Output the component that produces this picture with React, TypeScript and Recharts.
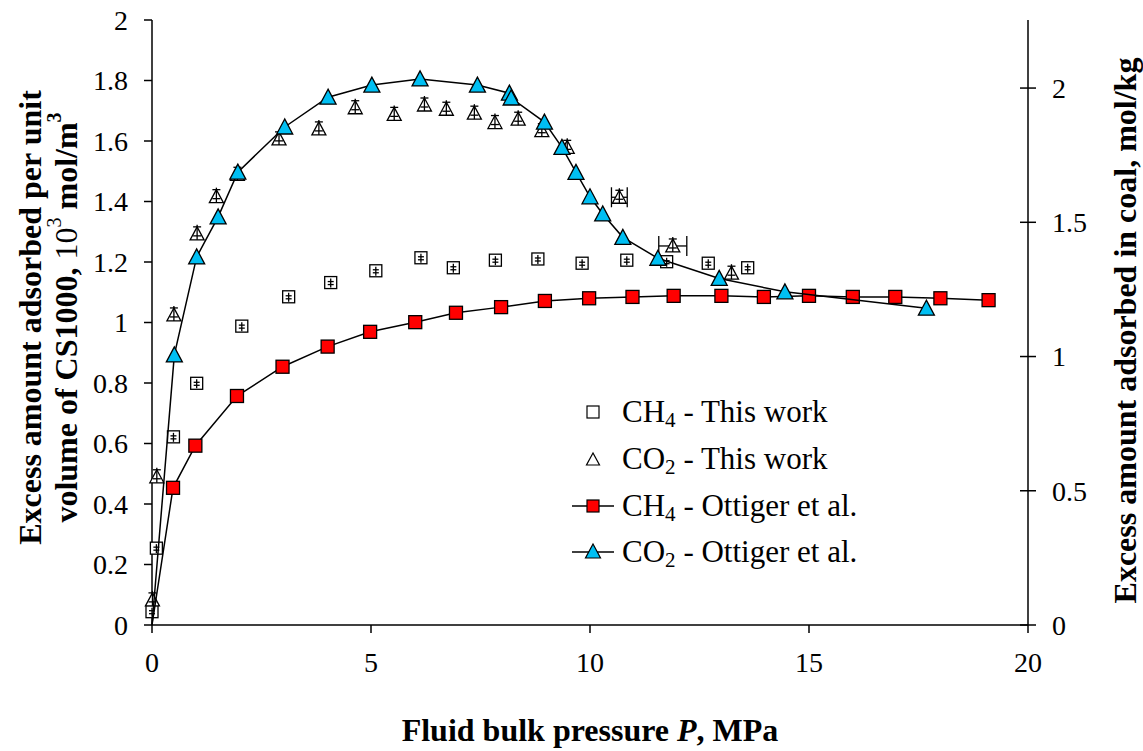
import { ComposedChart, Scatter, XAxis, YAxis, ErrorBar, Label } from 'recharts';

const SERIF = '"Liberation Serif", "Times New Roman", Times, serif';
const CYAN = '#00BFF3';
const RED = '#FF0000';

// CH4 - this work (left axis, 10^3 mol/m3)
const ch4WorkP = [0.0, 0.1, 0.49, 1.02, 2.05, 3.12, 4.08, 5.11, 6.14, 6.88, 7.84, 8.81, 9.82, 10.84, 11.75, 12.7, 13.6];
const ch4WorkQ = [0.044, 0.254, 0.622, 0.799, 0.988, 1.085, 1.132, 1.171, 1.214, 1.181, 1.206, 1.21, 1.196, 1.206, 1.201, 1.196, 1.181];

// CO2 - this work (left axis)
const co2WorkP = [0.01, 0.11, 0.5, 1.03, 1.47, 1.95, 2.9, 3.81, 4.64, 5.53, 6.22, 6.72, 7.36, 7.83, 8.36, 8.9, 9.48, 10.67, 11.89, 13.23];
const co2WorkQ = [0.083, 0.49, 1.025, 1.293, 1.416, 1.49, 1.607, 1.64, 1.71, 1.688, 1.719, 1.705, 1.692, 1.661, 1.672, 1.634, 1.579, 1.414, 1.253, 1.163];
const co2WorkErrP = [0, 0, 0, 0, 0, 0, 0, 0, 0, 0, 0, 0, 0, 0, 0, 0, 0, 0.18, 0.32, 0];

// Ottiger et al. (right axis, mol/kg)
const ch4OttP = [0, 0.48, 0.99, 1.94, 2.98, 4.01, 4.98, 6.01, 6.94, 7.97, 8.97, 9.98, 10.97, 11.91, 13.0, 13.97, 15.0, 16.0, 16.97, 18.0, 19.1];
const ch4OttQ = [0, 0.511, 0.668, 0.853, 0.962, 1.037, 1.092, 1.128, 1.163, 1.184, 1.207, 1.217, 1.222, 1.226, 1.226, 1.222, 1.226, 1.222, 1.222, 1.217, 1.21];
const co2OttP = [0, 0.51, 1.02, 1.51, 1.96, 3.03, 4.02, 5.02, 6.12, 7.43, 8.16, 8.2, 8.96, 9.36, 9.68, 10.0, 10.29, 10.75, 11.55, 12.95, 14.45, 17.68];
const co2OttQ = [0, 1.006, 1.371, 1.52, 1.687, 1.855, 1.966, 2.011, 2.034, 2.011, 1.981, 1.963, 1.873, 1.779, 1.686, 1.595, 1.531, 1.444, 1.366, 1.291, 1.241, 1.18];

const xTicks = [0, 5, 10, 15, 20];
const leftTicks = [0, 0.2, 0.4, 0.6, 0.8, 1, 1.2, 1.4, 1.6, 1.8, 2];
const rightTicks = [0, 0.5, 1, 1.5, 2];

const zip = (p: number[], q: number[], e?: number[]) =>
  p.map((v, i) => ({ p: v, q: q[i], e: e ? e[i] : 0 }));

const ch4Work = zip(ch4WorkP, ch4WorkQ);
const co2Work = zip(co2WorkP, co2WorkQ, co2WorkErrP);
const ch4Ott = zip(ch4OttP, ch4OttQ);
const co2Ott = zip(co2OttP, co2OttQ);

const OpenSquare = ({ cx, cy }: any) => (
  <g stroke="#000" strokeWidth={1.3} fill="none">
    <rect x={cx - 6} y={cy - 6} width={12} height={12} fill="#fff" />
    <line x1={cx} x2={cx} y1={cy - 4} y2={cy + 5} />
    <line x1={cx - 3} x2={cx + 3} y1={cy - 1} y2={cy - 1} />
    <line x1={cx - 3} x2={cx + 3} y1={cy + 2} y2={cy + 2} />
  </g>
);

const OpenTriangle = ({ cx, cy }: any) => (
  <g stroke="#000" strokeWidth={1.3} fill="none">
    <polygon points={`${cx},${cy - 7} ${cx - 7},${cy + 6} ${cx + 7},${cy + 6}`} fill="#fff" />
    <line x1={cx} x2={cx} y1={cy - 9} y2={cy + 6} />
    <line x1={cx - 4} x2={cx + 4} y1={cy - 7} y2={cy - 7} />
    <line x1={cx - 4} x2={cx + 4} y1={cy + 2} y2={cy + 2} />
  </g>
);

const RedSquare = ({ cx, cy, payload }: any) =>
  payload.p === 0 ? <g /> : (
    <rect x={cx - 6.5} y={cy - 6.5} width={13} height={13} fill={RED} stroke="#000" strokeWidth={1.3} />
  );

const BlueTriangle = ({ cx, cy, payload }: any) =>
  payload.p === 0 ? <g /> : (
    <polygon points={`${cx},${cy - 8} ${cx - 8},${cy + 7} ${cx + 8},${cy + 7}`} fill={CYAN} stroke="#000" strokeWidth={1.3} />
  );

const RightTick = ({ x, y, payload }: any) => (
  <g>
    <line x1={x - 32} x2={x - 16} y1={y} y2={y} stroke="#000" strokeWidth={1.5} />
    <text x={x} y={y} dy="0.355em" textAnchor="start" fontSize={28} fontFamily={SERIF} fill="#000">
      {payload.value}
    </text>
  </g>
);

const LeftTitle = ({ viewBox }: any) => {
  const cy = viewBox.y + viewBox.height / 2 - 5;
  const x1 = viewBox.x + 30;
  const x2 = viewBox.x + 66;
  return (
    <g fontFamily={SERIF} fontSize={32} fontWeight="bold" fill="#000">
      <text x={x1} y={cy} transform={`rotate(-90, ${x1}, ${cy})`} textAnchor="middle" dominantBaseline="central">
        Excess amount adsorbed per unit
      </text>
      <text x={x2} y={cy} transform={`rotate(-90, ${x2}, ${cy})`} textAnchor="middle" dominantBaseline="central">
        volume of CS1000, <tspan fontWeight="normal">10</tspan>
        <tspan fontWeight="normal" fontSize={20} dy={-12}>3</tspan>
        <tspan dy={12}> mol/m</tspan>
        <tspan fontSize={20} dy={-12}>3</tspan>
      </text>
    </g>
  );
};

const RightTitle = ({ viewBox }: any) => {
  const cx = viewBox.x + 97;
  const cy = viewBox.y + viewBox.height / 2 + 8;
  return (
    <text x={cx} y={cy} transform={`rotate(-90, ${cx}, ${cy})`} textAnchor="middle" dominantBaseline="central"
      fontFamily={SERIF} fontSize={32} fontWeight="bold" fill="#000">
      Excess amount adsorbed in coal, mol/kg
    </text>
  );
};

const XTitle = ({ viewBox }: any) => {
  const cx = viewBox.x + viewBox.width / 2;
  return (
    <text x={cx} y={viewBox.y + 116} textAnchor="middle" fontFamily={SERIF} fontSize={32} fontWeight="bold" fill="#000">
      Fluid bulk pressure <tspan fontStyle="italic">P</tspan>, MPa
    </text>
  );
};

const legendItems = [
  { key: 'ch4w', gas: 'CH', sub: '4', src: 'This work' },
  { key: 'co2w', gas: 'CO', sub: '2', src: 'This work' },
  { key: 'ch4o', gas: 'CH', sub: '4', src: 'Ottiger et al.' },
  { key: 'co2o', gas: 'CO', sub: '2', src: 'Ottiger et al.' },
];

const LegendIcon = ({ k }: { k: string }) => (
  <svg width={56} height={24}>
    {k === 'ch4w' && <rect x={22} y={6} width={12} height={12} fill="#fff" stroke="#000" strokeWidth={1.2} />}
    {k === 'co2w' && <polygon points="28,6 21.5,18 34.5,18" fill="#fff" stroke="#000" strokeWidth={1.2} />}
    {(k === 'ch4o' || k === 'co2o') && <line x1={7} x2={49} y1={12} y2={12} stroke="#000" strokeWidth={1.5} />}
    {k === 'ch4o' && <rect x={22} y={6} width={12} height={12} fill={RED} stroke="#000" strokeWidth={1.2} />}
    {k === 'co2o' && <polygon points="28,4 20.5,18 35.5,18" fill={CYAN} stroke="#000" strokeWidth={1.2} />}
  </svg>
);

export default function App() {
  return (
    <div style={{ position: 'absolute', left: 0, top: 0, width: 1143, height: 751, background: '#fff' }}>
      <ComposedChart width={1143} height={751} margin={{ top: 20, right: 0, bottom: 0, left: 0 }}>
        <XAxis
          type="number"
          dataKey="p"
          domain={[0, 20]}
          ticks={xTicks}
          height={126}
          tickSize={8}
          tickMargin={19}
          axisLine={{ stroke: '#000', strokeWidth: 1.5 }}
          tickLine={{ stroke: '#000', strokeWidth: 1.5 }}
          tick={{ fill: '#000', fontSize: 28, fontFamily: SERIF }}
        >
          <Label content={(props: any) => <XTitle {...props} />} />
        </XAxis>
        <YAxis
          yAxisId="left"
          type="number"
          domain={[0, 2]}
          ticks={leftTicks}
          width={152}
          tickSize={8}
          tickMargin={16}
          axisLine={{ stroke: '#000', strokeWidth: 1.5 }}
          tickLine={{ stroke: '#000', strokeWidth: 1.5 }}
          tick={{ fill: '#000', fontSize: 28, fontFamily: SERIF }}
        >
          <Label content={(props: any) => <LeftTitle {...props} />} />
        </YAxis>
        <YAxis
          yAxisId="right"
          orientation="right"
          type="number"
          domain={[0, 2.2535]}
          ticks={rightTicks}
          width={115}
          tickSize={8}
          tickMargin={16}
          axisLine={{ stroke: '#000', strokeWidth: 1.5 }}
          tickLine={false}
          tick={(props: any) => <RightTick {...props} />}
        >
          <Label content={(props: any) => <RightTitle {...props} />} />
        </YAxis>

        <Scatter name="CH4 - This work" data={ch4Work} dataKey="q" yAxisId="left" shape={(p: any) => <OpenSquare {...p} />} isAnimationActive={false} />
        <Scatter name="CO2 - This work" data={co2Work} dataKey="q" yAxisId="left" shape={(p: any) => <OpenTriangle {...p} />} isAnimationActive={false}>
          <ErrorBar dataKey="e" direction="x" width={10} stroke="#000" strokeWidth={1.3} />
        </Scatter>
        <Scatter
          name="CH4 - Ottiger et al."
          data={ch4Ott}
          dataKey="q"
          yAxisId="right"
          line={{ stroke: '#000', strokeWidth: 1.5 }}
          shape={(p: any) => <RedSquare {...p} />}
          isAnimationActive={false}
        />
        <Scatter
          name="CO2 - Ottiger et al."
          data={co2Ott}
          dataKey="q"
          yAxisId="right"
          line={{ stroke: '#000', strokeWidth: 1.5 }}
          shape={(p: any) => <BlueTriangle {...p} />}
          isAnimationActive={false}
        />
      </ComposedChart>

      <div style={{ position: 'absolute', left: 565, top: 389, fontFamily: SERIF, fontSize: 31, color: '#000' }}>
        {legendItems.map((it) => (
          <div key={it.key} style={{ display: 'flex', alignItems: 'center', height: 46.7, whiteSpace: 'nowrap' }}>
            <LegendIcon k={it.key} />
            <span style={{ marginLeft: 1 }}>
              {it.gas}
              <sub style={{ fontSize: '0.68em', lineHeight: 0, verticalAlign: '-0.25em' }}>{it.sub}</sub>
              {' - ' + it.src}
            </span>
          </div>
        ))}
      </div>
    </div>
  );
}
